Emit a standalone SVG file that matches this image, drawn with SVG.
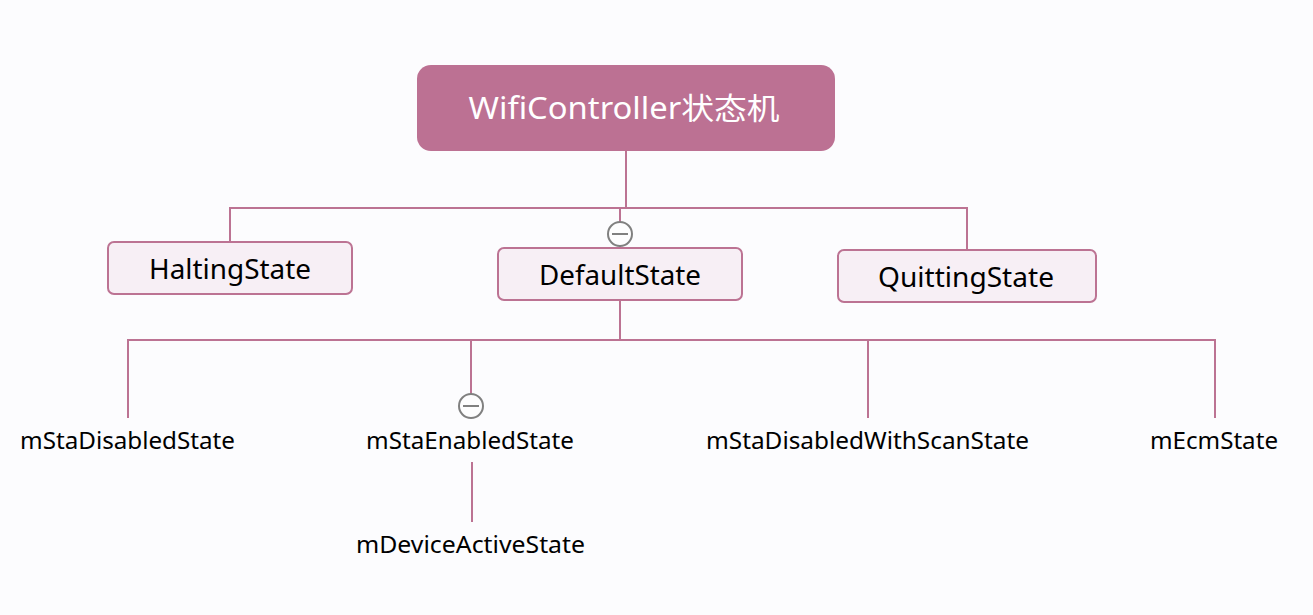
<svg xmlns="http://www.w3.org/2000/svg" width="1313" height="615" viewBox="0 0 1313 615">
<style>
text{font-family:"Noto Sans","Noto Sans CJK SC",sans-serif;text-anchor:middle;fill:#000}
.t{font-size:24px}
.n{font-size:28px}
.s{font-size:30px;fill:#fff}
.b{fill:#f7eff5;stroke:#bc7393;stroke-width:2}
.c{fill:none;stroke:#bc7393;stroke-width:2}
.m{fill:#fdfdfe;stroke:#808080;stroke-width:2}
.d{fill:none;stroke:#808080;stroke-width:2}
</style>
<rect width="1313" height="615" fill="#fcfcfe"/>
<g id="connectors">
<path class="c" d="M626 151V208M230 242V208H967V250M620 208V248M620 300V340M128 418V340H1215V418M471 340V394M868 340V418M472 462V522"/>
</g>
<g id="root"><rect x="417" y="65" width="418" height="86" rx="14" fill="#bc7193"/><text class="s" x="624" y="119" textLength="311" lengthAdjust="spacingAndGlyphs">WifiController状态机</text></g>
<g id="halting"><rect class="b" x="108" y="242" width="244" height="52" rx="6"/><text class="n" x="230" y="279" textLength="162" lengthAdjust="spacingAndGlyphs">HaltingState</text></g>
<g id="default"><rect class="b" x="498" y="248" width="244" height="52" rx="6"/><text class="n" x="620" y="285" textLength="162" lengthAdjust="spacingAndGlyphs">DefaultState</text></g>
<g id="quitting"><rect class="b" x="838" y="250" width="258" height="52" rx="6"/><text class="n" x="966" y="287" textLength="176" lengthAdjust="spacingAndGlyphs">QuittingState</text></g>
<g id="collapse-default"><circle class="m" cx="620" cy="234" r="12"/><path class="d" d="M612 234H628"/></g>
<g id="collapse-enabled"><circle class="m" cx="471" cy="406" r="12"/><path class="d" d="M463 406H479"/></g>
<g id="disabled"><text class="t" x="127.500" y="449" textLength="215" lengthAdjust="spacingAndGlyphs">mStaDisabledState</text></g>
<g id="enabled"><text class="t" x="470" y="449" textLength="208" lengthAdjust="spacingAndGlyphs">mStaEnabledState</text></g>
<g id="scan"><text class="t" x="867.500" y="449" textLength="323" lengthAdjust="spacingAndGlyphs">mStaDisabledWithScanState</text></g>
<g id="ecm"><text class="t" x="1214" y="449" textLength="128" lengthAdjust="spacingAndGlyphs">mEcmState</text></g>
<g id="active"><text class="t" x="470.500" y="553" textLength="229" lengthAdjust="spacingAndGlyphs">mDeviceActiveState</text></g>
</svg>
